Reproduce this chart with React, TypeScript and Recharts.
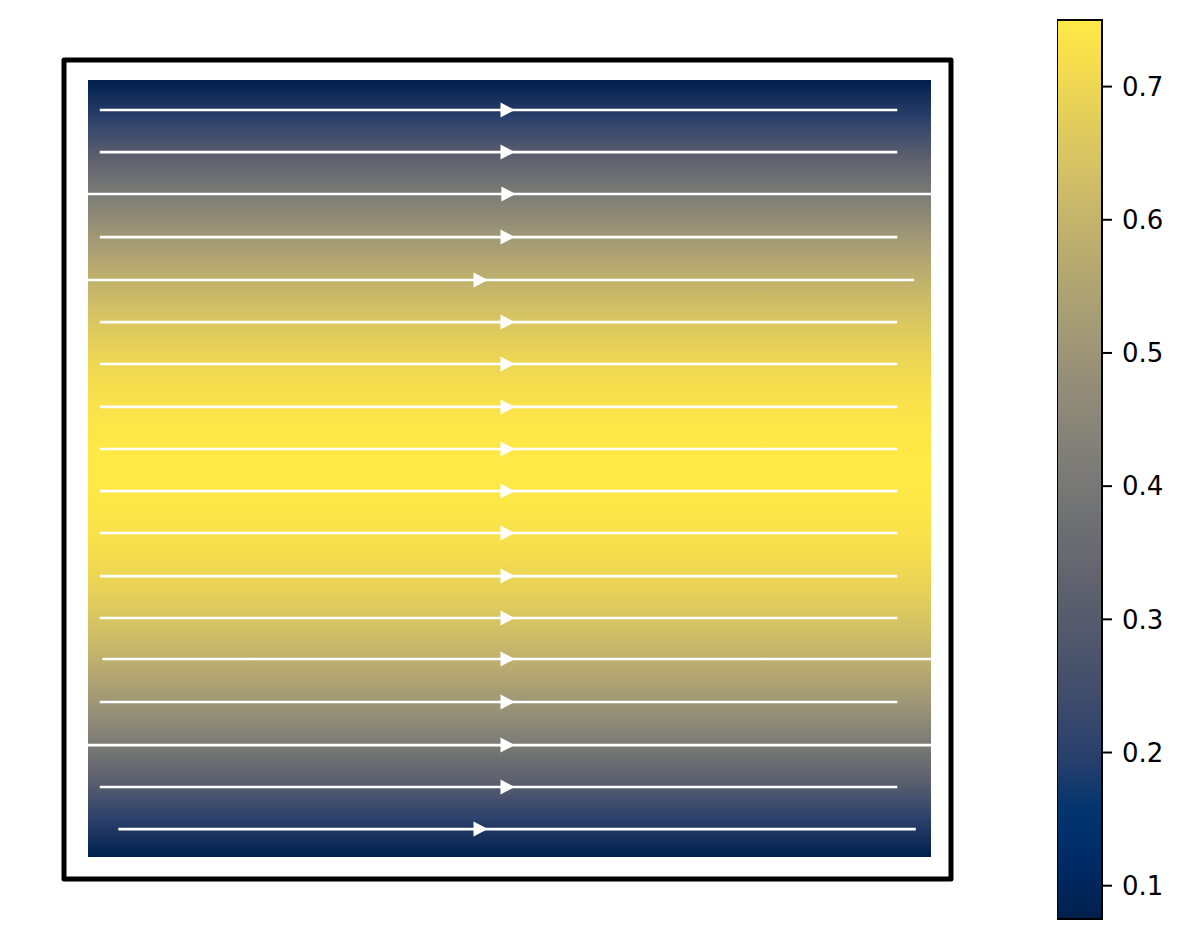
import React from 'react';
import { ComposedChart, XAxis, YAxis, Line, Scatter, ReferenceArea } from 'recharts';

// Vertical velocity profile (heatmap), y from top (1) to bottom (0)
const profileY = [1, 0.95, 0.9, 0.85, 0.8, 0.75, 0.7, 0.65, 0.6, 0.55, 0.5, 0.45, 0.4, 0.35, 0.3, 0.25, 0.2, 0.15, 0.1, 0.05, 0];
const profileValue = [0.075, 0.203, 0.318, 0.419, 0.507, 0.581, 0.642, 0.689, 0.723, 0.743, 0.75, 0.743, 0.723, 0.689, 0.642, 0.581, 0.507, 0.419, 0.318, 0.203, 0.075];

// Streamlines: y position, start x, end x, arrow x
const streamY = [0.9614, 0.9073, 0.8533, 0.7979, 0.7426, 0.6885, 0.6345, 0.5792, 0.5251, 0.471, 0.417, 0.3616, 0.3076, 0.2548, 0.1995, 0.1441, 0.0901, 0.036];
const streamStart = [0.014, 0.014, 0, 0.014, 0, 0.014, 0.014, 0.014, 0.014, 0.014, 0.014, 0.014, 0.014, 0.017, 0.014, 0, 0.014, 0.036];
const streamEnd = [0.96, 0.96, 1, 0.96, 0.98, 0.96, 0.96, 0.96, 0.96, 0.96, 0.96, 0.96, 0.96, 1, 0.96, 1, 0.96, 0.982];
const arrowX = [0.497, 0.497, 0.498, 0.497, 0.465, 0.497, 0.497, 0.497, 0.497, 0.497, 0.497, 0.497, 0.497, 0.497, 0.497, 0.497, 0.497, 0.465];

// Colorbar
const cbarMin = 0.075;
const cbarMax = 0.75;
const cbarTicks = [0.1, 0.2, 0.3, 0.4, 0.5, 0.6, 0.7];

// Cividis colormap stops
const cividis = [
  [0, 32, 76], [0, 42, 102], [0, 52, 110], [39, 63, 108], [60, 74, 107], [76, 85, 107],
  [91, 95, 109], [104, 106, 112], [117, 117, 117], [131, 129, 120], [146, 140, 120],
  [161, 152, 118], [176, 165, 114], [192, 177, 109], [209, 191, 102], [225, 204, 92],
  [243, 219, 79], [255, 233, 69],
];

function cmap(v: number): string {
  let t = (v - cbarMin) / (cbarMax - cbarMin);
  t = Math.max(0, Math.min(1, t));
  const n = cividis.length - 1;
  const i = Math.min(n - 1, Math.floor(t * n));
  const f = t * n - i;
  const a = cividis[i];
  const b = cividis[i + 1];
  const c = a.map((x, k) => Math.round(x + (b[k] - x) * f));
  return `rgb(${c[0]},${c[1]},${c[2]})`;
}

const X0 = -24 / 843;
const X1 = 1 + 20 / 843;
const Y0 = -22 / 777;
const Y1 = 1 + 20 / 777;

const arrowData = streamY.map((y, i) => ({ x: arrowX[i], y }));

const Arrow = (props: any) => {
  const { cx, cy } = props;
  if (cx == null || cy == null) return null;
  return <path d={`M${cx - 6.5},${cy - 7.5} L${cx + 8},${cy} L${cx - 6.5},${cy + 7.5} Z`} fill="#ffffff" />;
};

const cbarValues = Array.from({ length: 41 }, (_, i) => cbarMax - ((cbarMax - cbarMin) * i) / 40);
const cbarData = [{ x: 0, v: cbarMin }, { x: 1, v: cbarMax }];

export default function App() {
  return (
    <div style={{ position: 'absolute', left: 0, top: 0, width: 1185, height: 940, background: '#fff', fontFamily: 'DejaVu Sans' }}>
      <div style={{ position: 'absolute', left: 0, top: 0 }}>
        <ComposedChart width={1000} height={940} margin={{ top: 60, left: 64, right: 49, bottom: 61 }}>
          <defs>
            <linearGradient id="heatGrad" x1="0" y1="0" x2="0" y2="1">
              {profileY.map((y, i) => (
                <stop key={i} offset={1 - y} stopColor={cmap(profileValue[i])} />
              ))}
            </linearGradient>
          </defs>
          <XAxis type="number" dataKey="x" domain={[X0, X1]} hide allowDataOverflow />
          <YAxis type="number" dataKey="y" domain={[Y0, Y1]} hide allowDataOverflow />
          <ReferenceArea x1={0} x2={1} y1={0} y2={1} fill="url(#heatGrad)" fillOpacity={1} stroke="none" ifOverflow="visible" />
          {streamY.map((y, i) => (
            <Line
              key={i}
              data={[{ x: streamStart[i], y }, { x: streamEnd[i], y }]}
              dataKey="y"
              type="linear"
              stroke="#ffffff"
              strokeWidth={2.7}
              dot={false}
              activeDot={false}
              isAnimationActive={false}
            />
          ))}
          <Scatter data={arrowData} dataKey="y" shape={<Arrow />} isAnimationActive={false} />
          <ReferenceArea x1={X0} x2={X1} y1={Y0} y2={Y1} fill="none" stroke="#000" strokeWidth={5} strokeLinejoin="round" ifOverflow="visible" />
        </ComposedChart>
      </div>
      <div style={{ position: 'absolute', left: 1057, top: 0 }}>
        <ComposedChart width={128} height={940} data={cbarData} margin={{ top: 20, left: 0, right: 0, bottom: 21 }}>
          <defs>
            <linearGradient id="cbarGrad" x1="0" y1="0" x2="0" y2="1">
              {cbarValues.map((v, i) => (
                <stop key={i} offset={i / 40} stopColor={cmap(v)} />
              ))}
            </linearGradient>
          </defs>
          <XAxis type="number" dataKey="x" domain={[0, 1]} hide allowDataOverflow />
          <YAxis
            type="number"
            dataKey="v"
            orientation="right"
            width={83}
            domain={[cbarMin, cbarMax]}
            ticks={cbarTicks}
            tickFormatter={(v: number) => v.toFixed(1)}
            tickSize={10}
            tickMargin={10}
            axisLine={false}
            tickLine={{ stroke: '#000', strokeWidth: 2 }}
            tick={{ fill: '#000', fontSize: 26, fontFamily: 'DejaVu Sans' }}
            allowDataOverflow
          />
          <Line dataKey="v" stroke="none" dot={false} activeDot={false} isAnimationActive={false} />
          <ReferenceArea x1={0} x2={1} y1={cbarMin} y2={cbarMax} fill="url(#cbarGrad)" fillOpacity={1} stroke="#000" strokeWidth={2} ifOverflow="visible" />
        </ComposedChart>
      </div>
    </div>
  );
}
